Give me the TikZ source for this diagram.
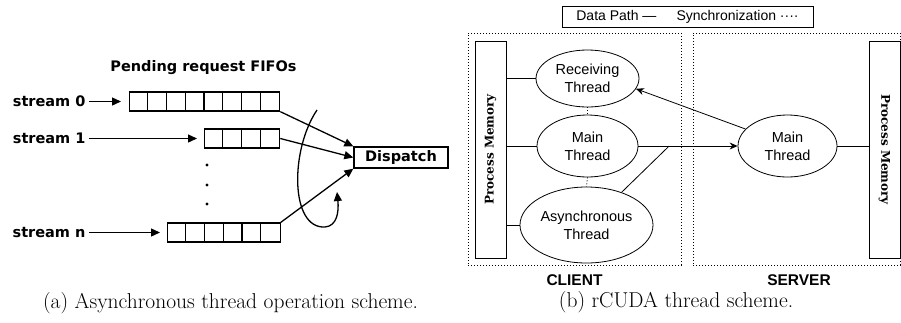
\documentclass[tikz,border=0pt]{standalone}
\usepackage{fontspec}
\usetikzlibrary{shapes.geometric,arrows.meta,calc}
\newfontfamily\dvsans{DejaVu Sans}
\newfontfamily\lsans{Liberation Sans}
\newfontfamily\dvserif{DejaVu Serif}

\begin{document}
\begin{tikzpicture}[x=1pt,y=-1pt,
		lbl/.style={font=\dvsans\bfseries\fontsize{14.5}{17}\selectfont},
		fifo/.style={draw,line width=1.3pt,minimum height=19pt,inner sep=0pt,anchor=west},
		thread/.style={ellipse,draw,line width=0.8pt,inner sep=0pt,align=center,font=\lsans\fontsize{14.5}{18}\selectfont},
		mem/.style={draw,line width=0.8pt,minimum width=31pt,minimum height=217pt,inner sep=0pt},
		memtext/.style={font=\dvserif\bfseries\fontsize{12}{14}\selectfont},
		region/.style={draw,line width=0.9pt,dash pattern=on 1pt off 2pt,inner sep=0pt},
		side/.style={font=\lsans\bfseries\fontsize{15.5}{18}\selectfont},
		subcap/.style={font=\fontsize{21.5}{24}\selectfont}]
		\useasboundingbox (0,0) rectangle (901,322);

		% (a) asynchronous thread scheme
		\def\cw{18.75}
		\node[lbl] (title) at (203.5,68) {Pending request FIFOs};

		\node[fifo,minimum width=150pt] (fifo0) at (129,101.5) {};
		\node[fifo,minimum width=75pt] (fifo1) at (204,138.5) {};
		\node[fifo,minimum width=112.5pt] (fifon) at (167,232.5) {};
		\foreach \f/\n in {fifo0/7,fifo1/3,fifon/5}
			\foreach \i in {1,...,\n}
				\draw[line width=1.3pt] ($(\f.south west)+(\i*\cw,0)$) -- ($(\f.north west)+(\i*\cw,0)$);

		\node[lbl,anchor=east] (s0) at (89,101.5) {stream 0};
		\node[lbl,anchor=east] (s1) at (89,138.5) {stream 1};
		\node[lbl,anchor=east] (sn) at (89,232.5) {stream n};

		\draw[line width=1.3pt,-{Triangle[length=9pt,width=8pt]},shorten >=8pt] (s0) -- (fifo0);
		\draw[line width=1.3pt,-{Triangle[length=9pt,width=8pt]},shorten >=7pt] (s1) -- (fifo1);
		\draw[line width=1.3pt,-{Triangle[length=9pt,width=8pt]},shorten >=7pt] (sn) -- (fifon);

		\foreach \y in {165,185,204}
			\fill (207,\y) circle (1.6);

		\node[lbl,draw,line width=1.3pt,minimum width=94pt,minimum height=21pt,inner sep=0pt] (dispatch) at (401,157.5) {Dispatch};

		\draw[line width=1.3pt,-{Triangle[length=9pt,width=8pt]}] (fifo0.south east) -- (dispatch.north west);
		\draw[line width=1.3pt,-{Triangle[length=9pt,width=8pt]}] (fifo1.east) -- (dispatch.west);
		\draw[line width=1.3pt,-{Triangle[length=9pt,width=8pt]}] (fifon.north east) -- (dispatch.south west);

		\coordinate (turnA) at (317,110);
		\coordinate (turnB) at (337,192);
		\draw[line width=1.3pt,-{Triangle[length=9pt,width=8pt]}] (turnA) .. controls (290,150) and (290,229) .. (325,227) .. controls (337,226) and (339,212) .. (turnB);

		\node[subcap] (capa) at (230.5,303) {(a) Asynchronous thread operation scheme.};

		% (b) rCUDA thread scheme
		\node[draw,line width=0.8pt,minimum width=251pt,minimum height=21pt,inner sep=0pt,font=\lsans\fontsize{14}{17}\selectfont] (legend) at (687.5,16.5) {Data Path —\hspace{20pt}Synchronization ····};

		\node[region,minimum width=213pt,minimum height=232pt] (client) at (574.5,149) {};
		\node[region,minimum width=207pt,minimum height=232pt] (server) at (796.5,149) {};
		\node[side] (clientlbl) at (574.5,280) {CLIENT};
		\node[side] (serverlbl) at (799,280) {SERVER};

		\node[mem] (cmem) at (490.5,149.5) {};
		\node[memtext,rotate=90] (cmemtxt) at (cmem) {Process Memory};
		\node[mem] (smem) at (884.5,149.5) {};
		\node[memtext,rotate=-90] (smemtxt) at (smem) {Process Memory};

		\node[thread,minimum width=103pt,minimum height=57pt] (recv) at (587.5,78.5) {Receiving\\Thread};
		\node[thread,minimum width=101pt,minimum height=62pt] (cmain) at (587.5,146) {Main\\Thread};
		\node[thread,minimum width=133pt,minimum height=76pt] (async) at (586.5,225) {Asynchronous\\Thread};
		\node[thread,minimum width=99pt,minimum height=62pt] (smain) at (787.5,146) {Main\\Thread};

		\draw[line width=0.8pt] (cmem.east |- recv.west) -- (recv.west);
		\draw[line width=0.8pt] (cmem.east |- cmain.west) -- (cmain.west);
		\draw[line width=0.8pt] (cmem.east |- async.west) -- (async.west);
		\draw[line width=0.8pt] (smain.east) -- (smem.west |- smain.east);

		\draw[line width=0.8pt,dash pattern=on 1pt off 2pt] (recv.south) -- (cmain.north);
		\draw[line width=0.8pt,dash pattern=on 1pt off 2pt] (cmain.south) -- (async.north);

		\coordinate (join) at ($(cmain.east)!0.31!(smain.west)$);
		\draw[line width=0.8pt,-{Stealth[length=8pt,width=7pt]}] (cmain.east) -- (smain.west);
		\draw[line width=0.8pt] (async.43) -- (join);
		\draw[line width=0.8pt,-{Stealth[length=8pt,width=7pt]}] (smain.158) -- (recv.-12);

		\node[subcap] (capb) at (676,302) {(b) rCUDA thread scheme.};
	\end{tikzpicture}
\end{document}
